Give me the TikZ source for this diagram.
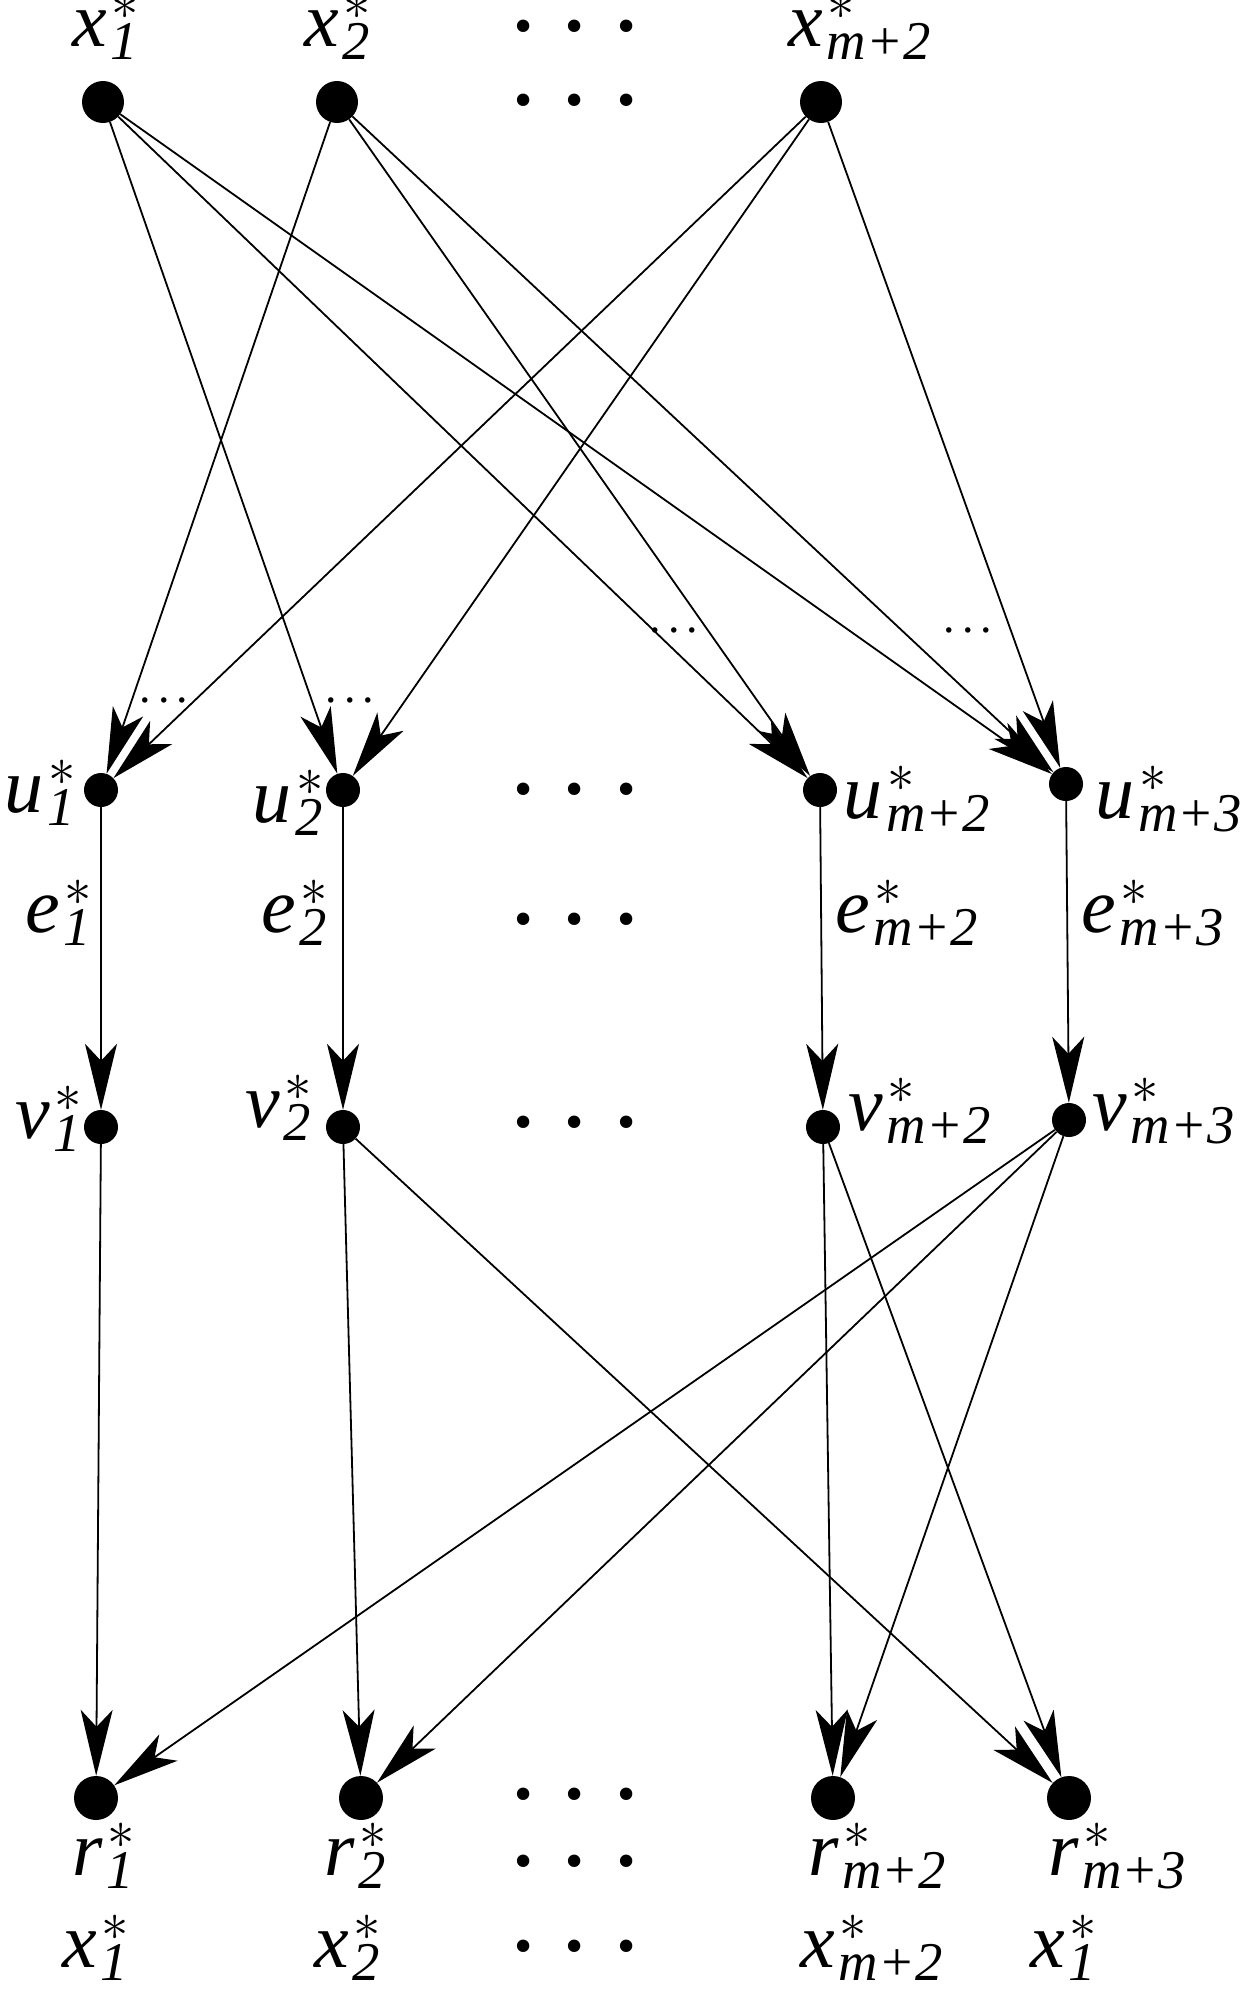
\RequirePackage{fix-cm}
\documentclass[tikz,border=0pt]{standalone}
\usepackage{amsmath}
\usepackage{fontspec}
\setmainfont{Liberation Serif}
\usetikzlibrary{arrows.meta}
\newcommand{\mylab}[2]{$\textit{#1}^{\kern5bp\raisebox{-9bp}{$\scriptstyle *$}}_{\kern4bp\textit{#2}}$}
\newcommand{\bigdots}{\textbullet\kern33bp\textbullet\kern33bp\textbullet}
\newcommand{\smalldots}{.\kern7bp.\kern7bp.}
\begin{document}
\begin{tikzpicture}[x=1bp,y=-1bp,
  dotA/.style={circle,fill=black,inner sep=0pt,minimum size=#1},
  lab/.style={inner sep=0pt,anchor=base west,font=\fontsize{78bp}{86bp}\selectfont},
  bigell/.style={inner sep=0pt,font=\fontsize{52bp}{52bp}\selectfont},
  smallell/.style={inner sep=0pt,font=\fontsize{46bp}{46bp}\selectfont},
  arr/.style={line width=1.8bp,-{Stealth[length=66bp,width=32bp,inset=17bp]}}]
\useasboundingbox (0,0) rectangle (1255,1994);
% top row
\node[dotA=42bp] (x1) at (103,102) {};
\node[dotA=42bp] (x2) at (337,102) {};
\node[dotA=42bp] (xm) at (821,102) {};
\node[lab] (lx1) at (72,46) {\mylab{x}{1}};
\node[lab] (lx2) at (304,46) {\mylab{x}{2}};
\node[lab] (lxm) at (788,46) {\mylab{x}{m+2}};
\node[bigell] (d1) at (575,32) {\bigdots};
\node[bigell] (d2) at (575,106) {\bigdots};
% u row
\node[dotA=34bp] (u1) at (101,790) {};
\node[dotA=34bp] (u2) at (343,790) {};
\node[dotA=34bp] (um2) at (820,790) {};
\node[dotA=34bp] (um3) at (1066,784) {};
\node[lab] (lu1) at (4,812) {\mylab{u}{1}};
\node[lab] (lu2) at (252,822) {\mylab{u}{2}};
\node[lab] (lum2) at (843,818) {\mylab{u}{m+2}};
\node[lab] (lum3) at (1095,818) {\mylab{u}{m+3}};
\node[bigell] (d3) at (575,795) {\bigdots};
% small ellipses
\node[smallell] (s1) at (164,700) {\smalldots};
\node[smallell] (s2) at (350,700) {\smalldots};
\node[smallell] (s3) at (674,630) {\smalldots};
\node[smallell] (s4) at (968,630) {\smalldots};
% e labels
\node[lab] (le1) at (25,932) {\mylab{e}{1}};
\node[lab] (le2) at (261,932) {\mylab{e}{2}};
\node[lab] (lem2) at (835,932) {\mylab{e}{m+2}};
\node[lab] (lem3) at (1081,932) {\mylab{e}{m+3}};
\node[bigell] (d4) at (575,925) {\bigdots};
% v row
\node[dotA=34bp] (v1) at (101,1127) {};
\node[dotA=34bp] (v2) at (343,1127) {};
\node[dotA=34bp] (vm2) at (823,1127) {};
\node[dotA=34bp] (vm3) at (1069,1120) {};
\node[lab] (lv1) at (15,1138) {\mylab{v}{1}};
\node[lab] (lv2) at (245,1127) {\mylab{v}{2}};
\node[lab] (lvm2) at (848,1130) {\mylab{v}{m+2}};
\node[lab] (lvm3) at (1092,1130) {\mylab{v}{m+3}};
\node[bigell] (d5) at (575,1128) {\bigdots};
% r row
\node[dotA=44bp] (r1) at (96,1798) {};
\node[dotA=44bp] (r2) at (361,1798) {};
\node[dotA=44bp] (rm2) at (833,1798) {};
\node[dotA=44bp] (rm3) at (1069,1798) {};
\node[lab] (lr1) at (72,1875) {\mylab{r}{1}};
\node[lab] (lr2) at (324,1875) {\mylab{r}{2}};
\node[lab] (lrm2) at (808,1875) {\mylab{r}{m+2}};
\node[lab] (lrm3) at (1048,1875) {\mylab{r}{m+3}};
\node[bigell] (d6) at (575,1800) {\bigdots};
\node[bigell] (d7) at (575,1867) {\bigdots};
% bottom x labels
\node[lab] (bx1) at (62,1967) {\mylab{x}{1}};
\node[lab] (bx2) at (314,1967) {\mylab{x}{2}};
\node[lab] (bxm) at (800,1967) {\mylab{x}{m+2}};
\node[lab] (bx1b) at (1030,1967) {\mylab{x}{1}};
\node[bigell] (d8) at (575,1952) {\bigdots};
% edges x -> u
\draw[arr] (x1) -- (u2);
\draw[arr] (x1) -- (um2);
\draw[arr] (x1) -- (um3);
\draw[arr] (x2) -- (u1);
\draw[arr] (x2) -- (um2);
\draw[arr] (x2) -- (um3);
\draw[arr] (xm) -- (u1);
\draw[arr] (xm) -- (u2);
\draw[arr] (xm) -- (um3);
% u -> v
\draw[arr] (u1) -- (v1);
\draw[arr] (u2) -- (v2);
\draw[arr] (um2) -- (vm2);
\draw[arr] (um3) -- (vm3);
% v -> r
\draw[arr] (v1) -- (r1);
\draw[arr] (v2) -- (r2);
\draw[arr] (v2) -- (rm3);
\draw[arr] (vm2) -- (rm2);
\draw[arr] (vm2) -- (rm3);
\draw[arr] (vm3) -- (r1);
\draw[arr] (vm3) -- (r2);
\draw[arr] (vm3) -- (rm2);
\end{tikzpicture}
\end{document}
